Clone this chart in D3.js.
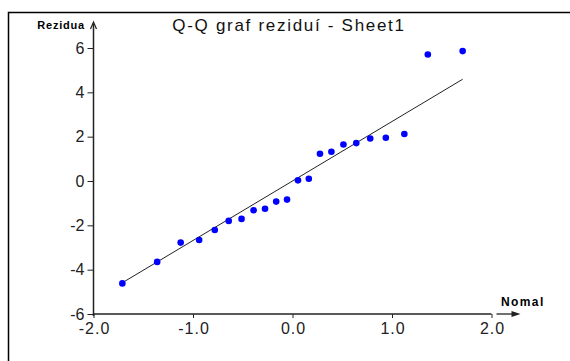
<!DOCTYPE html>
<html>
<head>
<meta charset="utf-8">
<script src="https://cdn.jsdelivr.net/npm/d3@7"></script>
<style>
  body { margin: 0; background: #fff; }
  svg { display: block; }
</style>
</head>
<body>
<div id="canvas"></div>
<script>
// normal quantiles (x) and sorted residuals (y)
const quantiles = [-1.71, -1.36, -1.124, -0.938, -0.781, -0.641, -0.512, -0.391, -0.276, -0.164, -0.055,
                   0.055, 0.164, 0.276, 0.391, 0.512, 0.641, 0.781, 0.938, 1.124, 1.36, 1.71];
const residuals = [-4.62, -3.65, -2.78, -2.66, -2.21, -1.80, -1.71, -1.32, -1.25, -0.93, -0.84,
                   0.03, 0.10, 1.23, 1.32, 1.65, 1.71, 1.92, 1.95, 2.12, 5.71, 5.86];
// fitted line ends
const fitX = [-1.71, 1.71];
const fitY = [-4.59, 4.59];
const xTicks = [-2, -1, 0, 1, 2];
const yTicks = [-6, -4, -2, 0, 2, 4, 6];

const width = 570;
const height = 361;

const svg = d3.select("#canvas").append("svg")
    .attr("width", width)
    .attr("height", height);

// frame (only left/top are in view)
svg.append("rect")
    .attr("x", 8.5).attr("y", 12.5)
    .attr("width", 600).attr("height", 400)
    .attr("fill", "none")
    .attr("stroke", "#000")
    .attr("stroke-width", 1.5);

const x = d3.scaleLinear().domain([-2, 2]).range([93.5, 491.5]);
const y = d3.scaleLinear().domain([-6, 6]).range([314, 48]);

const font = "Arial, 'Liberation Sans', sans-serif";

// y axis
const yAxis = svg.append("g")
    .attr("transform", `translate(${x(-2)},0)`)
    .call(d3.axisLeft(y).tickValues(yTicks).tickSize(6).tickSizeOuter(0).tickPadding(3).tickFormat(d => String(d)));
yAxis.select(".domain").remove();
yAxis.selectAll("line").attr("stroke", "#222");
yAxis.selectAll("text").style("font-family", font).style("font-size", "16px").attr("fill", "#222");

// x axis
const xAxis = svg.append("g")
    .attr("transform", `translate(0,${y(-6)})`)
    .call(d3.axisBottom(x).tickValues(xTicks).tickSize(4).tickSizeOuter(0).tickPadding(5).tickFormat(d => d.toFixed(1)));
xAxis.select(".domain").remove();
xAxis.selectAll("line").attr("stroke", "#222");
xAxis.selectAll("text")
    .style("font-family", font).style("font-size", "16px").style("letter-spacing", "1px")
    .attr("dx", 0.5)
    .attr("fill", "#222");

// axis lines
svg.append("line")
    .attr("x1", x(-2)).attr("x2", x(-2))
    .attr("y1", y(-6) + 2).attr("y2", 24)
    .attr("stroke", "#222").attr("stroke-width", 1.5);
svg.append("line")
    .attr("x1", x(-2)).attr("x2", x(2))
    .attr("y1", y(-6)).attr("y2", y(-6))
    .attr("stroke", "#222").attr("stroke-width", 1.5);

// arrows
svg.append("path")
    .attr("d", `M${x(-2) - 3},29 L${x(-2)},22 L${x(-2) + 3},29`)
    .attr("fill", "none").attr("stroke", "#222").attr("stroke-width", 1.2);
svg.append("line")
    .attr("x1", x(2) + 5).attr("x2", x(2) + 24)
    .attr("y1", y(-6)).attr("y2", y(-6))
    .attr("stroke", "#222").attr("stroke-width", 1.3);
svg.append("path")
    .attr("d", `M${x(2) + 20},${y(-6) - 3} L${x(2) + 29},${y(-6)} L${x(2) + 20},${y(-6) + 3} Z`)
    .attr("fill", "#222");

// axis titles
svg.append("text")
    .attr("x", 85).attr("y", 29)
    .attr("text-anchor", "end")
    .style("font-family", font).style("font-size", "11px").style("font-weight", "bold")
    .style("letter-spacing", "0.8px")
    .text("Rezidua");
svg.append("text")
    .attr("x", 501).attr("y", 306)
    .style("font-family", font).style("font-size", "12px").style("font-weight", "bold")
    .style("letter-spacing", "1.4px")
    .text("Nomal");

// title
svg.append("text")
    .attr("x", 289).attr("y", 31)
    .attr("text-anchor", "middle")
    .style("font-family", font).style("font-size", "17px")
    .style("letter-spacing", "1.7px")
    .attr("fill", "#111")
    .text("Q-Q graf reziduí - Sheet1");

// fitted line
svg.append("line")
    .attr("x1", x(fitX[0])).attr("y1", y(fitY[0]))
    .attr("x2", x(fitX[1])).attr("y2", y(fitY[1]))
    .attr("stroke", "#222").attr("stroke-width", 1);

// points
const pts = quantiles.map((q, i) => ({ q: q, r: residuals[i] }));
svg.selectAll("circle").data(pts).enter().append("circle")
    .attr("cx", d => x(d.q))
    .attr("cy", d => y(d.r))
    .attr("r", 3.3)
    .attr("fill", "#0000ff");
</script>
</body>
</html>
